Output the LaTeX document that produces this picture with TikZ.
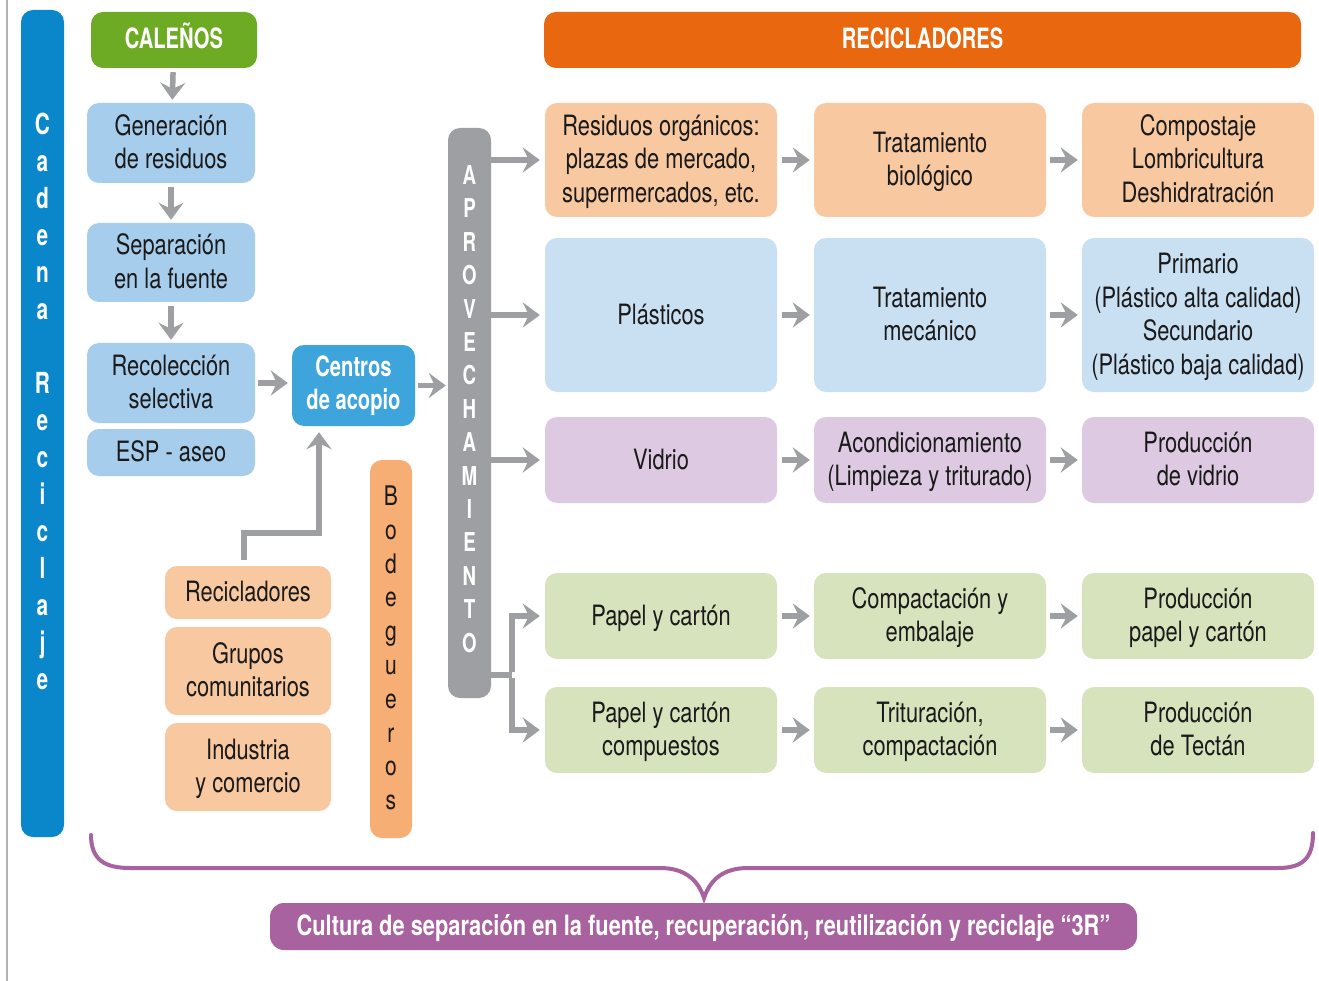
\documentclass[tikz,border=0pt]{standalone}
\usepackage{fontspec}
\setmainfont{TeX Gyre Heros}[FakeStretch=0.78]
\newfontfamily\bfc{TeX Gyre Heros}[FakeStretch=0.72]
\usetikzlibrary{arrows.meta}
\definecolor{cblue}{HTML}{0A87CB}
\definecolor{cgreen}{HTML}{6EAB24}
\definecolor{lblue}{HTML}{A7CDEC}
\definecolor{mblue}{HTML}{3DA5DC}
\definecolor{agray}{HTML}{9E9FA2}
\definecolor{bodeg}{HTML}{F6AE74}
\definecolor{peach}{HTML}{F8C8A0}
\definecolor{horange}{HTML}{E8670F}
\definecolor{pblue}{HTML}{C9DFF2}
\definecolor{lilac}{HTML}{DDCAE2}
\definecolor{pgreen}{HTML}{D6E3BC}
\definecolor{purp}{HTML}{A8629F}
\definecolor{txt}{HTML}{1A1A1A}
\newcommand\hst{\rule{0pt}{27pt}}
\newcommand\dst{\rule[-9pt]{0pt}{9pt}}
\begin{document}
\begin{tikzpicture}[x=1pt,y=-1pt,
  box/.style={rounded corners=12pt, inner sep=0pt, align=center, text=txt,
    font=\fontsize{28}{33.5}\selectfont},
  hbox/.style={box, text=white, font=\bfc\bfseries\fontsize{28}{33}\selectfont},
  col/.style={box, minimum width=232pt},
  arr/.style={draw=agray, line width=5.5pt,
    -{Stealth[length=17pt,width=25pt,inset=6pt]}},
  ln/.style={draw=agray, line width=5.5pt}
]
\useasboundingbox (0,0) rectangle (1319,981);
\fill[white] (0,0) rectangle (1319,981);
\draw[draw=black!30, line width=1.5pt] (7,0) -- (7,981);

% left blue bar
\node[box, fill=cblue, minimum width=43pt, minimum height=827pt] (cadena) at (42.5,423.5) {};
\node[inner sep=0pt, align=center, text=white, font=\bfc\bfseries\fontsize{29}{37}\selectfont] (cadtxt) at (42.5,401.5)
  {C\\a\\d\\e\\n\\a\\[37pt]R\\e\\c\\i\\c\\l\\a\\j\\e};

% left column
\node[hbox, fill=cgreen, minimum width=166pt, minimum height=56pt] (cal) at (174,40) {\hst CALEÑOS\dst};
\node[box, fill=lblue, minimum width=168pt, minimum height=80pt] (gen) at (171,143) {\hst Generación\\de residuos\dst};
\node[box, fill=lblue, minimum width=168pt, minimum height=79pt] (sep) at (171,262.5) {\hst Separación\\en la fuente\dst};
\node[box, fill=lblue, minimum width=168pt, minimum height=80pt] (rec) at (171,383) {\hst Recolección\\selectiva\dst};
\node[box, fill=lblue, minimum width=168pt, minimum height=47pt] (esp) at (171,452.5) {\hst ESP - aseo\dst};
\node[hbox, fill=mblue, minimum width=123pt, minimum height=81pt] (cen) at (353.5,385.5) {Centros\\de acopio};

\node[box, fill=peach, minimum width=166pt, minimum height=53pt] (recic) at (248,592.5) {\hst Recicladores\dst};
\node[box, fill=peach, minimum width=166pt, minimum height=88pt] (grup) at (248,671) {\hst Grupos\\comunitarios\dst};
\node[box, fill=peach, minimum width=166pt, minimum height=88pt] (ind) at (248,767) {\hst Industria\\y comercio\dst};

% Bodegueros
\node[box, fill=bodeg, minimum width=42pt, minimum height=378pt] (bod) at (391,649) {};
\node[inner sep=0pt, align=center, text=txt, font=\fontsize{27}{33.8}\selectfont] (bodtxt) at (391,648)
  {B\\o\\d\\e\\g\\u\\e\\r\\o\\s};

% Aprovechamiento
\node[box, fill=agray, minimum width=43pt, minimum height=570pt] (apr) at (469.5,413) {};
\node[inner sep=0pt, align=center, text=white, font=\bfc\bfseries\fontsize{26}{33.4}\selectfont] (aprtxt) at (469.5,409)
  {A\\P\\R\\O\\V\\E\\C\\H\\A\\M\\I\\E\\N\\T\\O};

% header
\node[hbox, fill=horange, minimum width=757pt, minimum height=56pt] (head) at (922.5,40) {\hst RECICLADORES\dst};

% rows
\node[col, fill=peach, minimum height=114pt] (r1c1) at (661,160) {\hst Residuos orgánicos:\\plazas de mercado,\\supermercados, etc.\dst};
\node[col, fill=peach, minimum height=114pt] (r1c2) at (930,160) {\hst Tratamiento\\biológico\dst};
\node[col, fill=peach, minimum height=114pt] (r1c3) at (1198,160) {\hst Compostaje\\Lombricultura\\Deshidratración\dst};

\node[col, fill=pblue, minimum height=154pt] (r2c1) at (661,315) {\hst Plásticos\dst};
\node[col, fill=pblue, minimum height=154pt] (r2c2) at (930,315) {\hst Tratamiento\\mecánico\dst};
\node[col, fill=pblue, minimum height=154pt] (r2c3) at (1198,315) {\hst Primario\\(Plástico alta calidad)\\Secundario\\(Plástico baja calidad)\dst};

\node[col, fill=lilac, minimum height=86pt] (r3c1) at (661,460) {\hst Vidrio\dst};
\node[col, fill=lilac, minimum height=86pt] (r3c2) at (930,460) {\hst Acondicionamiento\\(Limpieza y triturado)\dst};
\node[col, fill=lilac, minimum height=86pt] (r3c3) at (1198,460) {\hst Producción\\de vidrio\dst};

\node[col, fill=pgreen, minimum height=86pt] (r4c1) at (661,616) {\hst Papel y cartón\dst};
\node[col, fill=pgreen, minimum height=86pt] (r4c2) at (930,616) {\hst Compactación y\\embalaje\dst};
\node[col, fill=pgreen, minimum height=86pt] (r4c3) at (1198,616) {\hst Producción\\papel y cartón\dst};

\node[col, fill=pgreen, minimum height=86pt] (r5c1) at (661,730) {\hst Papel y cartón\\compuestos\dst};
\node[col, fill=pgreen, minimum height=86pt] (r5c2) at (930,730) {\hst Trituración,\\compactación\dst};
\node[col, fill=pgreen, minimum height=86pt] (r5c3) at (1198,730) {\hst Producción\\de Tectán\dst};

% bottom
\node[hbox, fill=purp, rounded corners=14pt, minimum width=867pt, minimum height=47pt,
  font=\bfseries\fontsize{28}{30}\selectfont] (cult) at (703.5,926.5)
  {\hst Cultura de separación en la fuente, recuperación, reutilización y reciclaje “3R”\dst};

% arrows left column
\draw[arr, shorten <=4pt, shorten >=3pt] (cal) -- (gen);
\draw[arr, shorten <=4pt, shorten >=3pt] (gen) -- (sep);
\draw[arr, shorten <=4pt, shorten >=3pt] (sep) -- (rec);
\draw[arr, shorten <=3pt, shorten >=4pt] (rec.east) -- (cen.west |- rec.east);
\draw[arr, shorten <=3pt, shorten >=2pt] (cen.east) -- (apr.west |- cen.east);
\draw[arr, shorten <=6pt] ([xshift=-4pt]recic.north) -- ++(0,-33) -| ([xshift=-34.5pt,yshift=-6pt]cen.south);

% aprovechamiento to rows
\foreach \r in {r1c1,r2c1,r3c1}
  \draw[arr, shorten >=5pt] (apr.east |- \r.west) -- (\r.west);
\coordinate (br) at (512,675);
\draw[ln] (apr.east |- br) -- (br);
\draw[arr, shorten >=5pt] ([yshift=2.75pt]br) |- (r4c1.west);
\draw[arr, shorten >=5pt] ([yshift=-2.75pt]br) |- (r5c1.west);

% column arrows
\foreach \r in {1,2,3,4,5}{
  \draw[arr, shorten <=5pt, shorten >=4pt] (r\r c1.east) -- (r\r c2.west);
  \draw[arr, shorten <=4pt, shorten >=4pt] (r\r c2.east) -- (r\r c3.west);
}

% brace
\draw[draw=purp, line width=4pt, line cap=round]
  (91,835) .. controls (91,860) and (105,868) .. (130,868) -- (660,868)
  .. controls (685,868) and (698,880) .. (704,898)
  .. controls (710,880) and (723,868) .. (748,868) -- (1278,868)
  .. controls (1303,868) and (1313,858) .. (1313,833);
\end{tikzpicture}
\end{document}
